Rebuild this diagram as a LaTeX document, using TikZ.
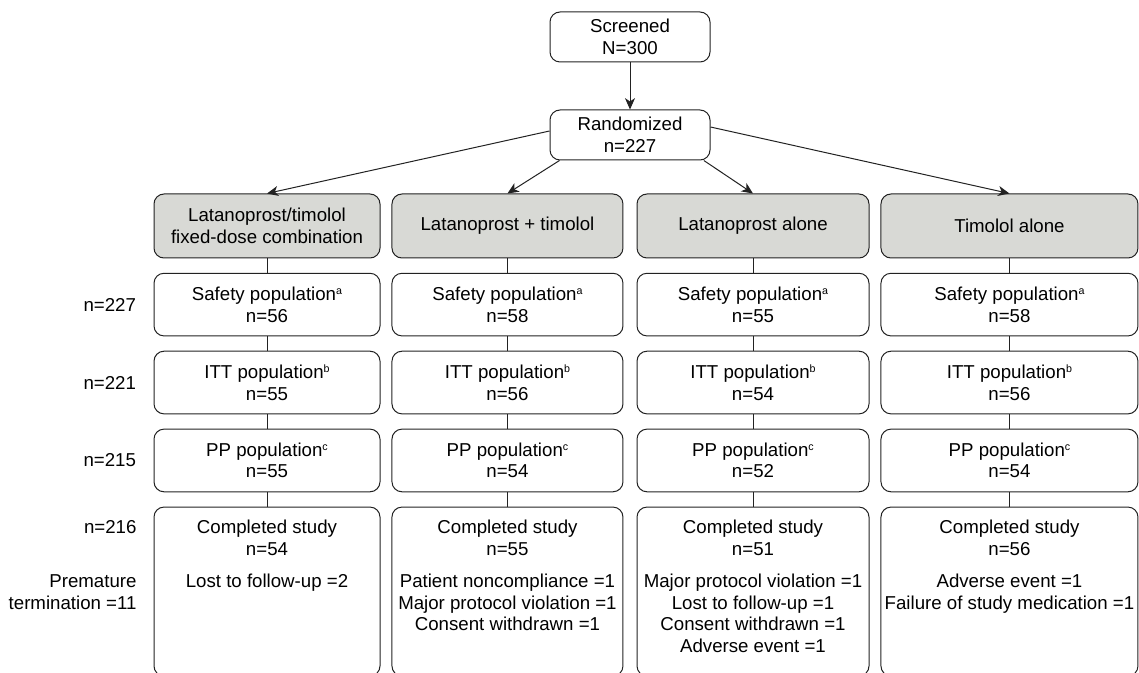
\documentclass[tikz,border=0pt]{standalone}
\usepackage{fontspec}
\setmainfont{Liberation Sans}
\usetikzlibrary{positioning,arrows.meta}
\definecolor{headgray}{RGB}{216,217,213}
\definecolor{linegray}{RGB}{34,34,34}
\newcommand\supmark[1]{\raisebox{0.6ex}{\fontsize{8}{8}\selectfont #1}}

\begin{document}
\begin{tikzpicture}[>={Stealth[length=8.5pt,width=7.5pt,inset=2.5pt]},node distance=10.7pt,
  font=\fontsize{14}{16.2}\selectfont,line width=0.75pt,
  box/.style={draw=linegray,rounded corners=7.5pt,align=center,minimum height=47pt,inner sep=2pt},
  head/.style={box,fill=headgray,minimum height=48pt},
  col1/.style={minimum width=169.5pt},
  col2/.style={minimum width=173.25pt},
  col3/.style={minimum width=174pt},
  col4/.style={minimum width=192.75pt},
  done/.style={box,minimum height=126.7pt},
  txt/.style={align=center,inner sep=0pt},
  lbl/.style={align=right,inner sep=0pt}]
\useasboundingbox (0,0) rectangle (854.25pt,-504.75pt);

% top of the chart
\node[box,minimum width=120pt,minimum height=37.5pt] (scr) at (472.5pt,-27.75pt) {Screened\\N=300};
\node[box,minimum width=120pt,minimum height=37.5pt] (rnd) at (472.5pt,-101.25pt) {Randomized\\n=227};

% treatment groups
\node[head,col1] (g1) at (200.25pt,-169.5pt) {Latanoprost/timolol\\fixed-dose combination};
\node[head,col2] (g2) at (380.6pt,-169.5pt) {Latanoprost + timolol};
\node[head,col3] (g3) at (564.75pt,-169.5pt) {Latanoprost alone};
\node[head,col4] (g4) at (757.1pt,-169.5pt) {Timolol alone};

% safety population
\node[box,col1] (safe1) [below=of g1] {Safety population\supmark{a}\\n=56};
\node[box,col2] (safe2) [below=of g2] {Safety population\supmark{a}\\n=58};
\node[box,col3] (safe3) [below=of g3] {Safety population\supmark{a}\\n=55};
\node[box,col4] (safe4) [below=of g4] {Safety population\supmark{a}\\n=58};

% ITT population
\node[box,col1] (itt1) [below=of safe1] {ITT population\supmark{b}\\n=55};
\node[box,col2] (itt2) [below=of safe2] {ITT population\supmark{b}\\n=56};
\node[box,col3] (itt3) [below=of safe3] {ITT population\supmark{b}\\n=54};
\node[box,col4] (itt4) [below=of safe4] {ITT population\supmark{b}\\n=56};

% PP population
\node[box,col1] (pp1) [below=of itt1] {PP population\supmark{c}\\n=55};
\node[box,col2] (pp2) [below=of itt2] {PP population\supmark{c}\\n=54};
\node[box,col3] (pp3) [below=of itt3] {PP population\supmark{c}\\n=52};
\node[box,col4] (pp4) [below=of itt4] {PP population\supmark{c}\\n=54};

% completed study
\node[done,col1] (end1) [below=of pp1] {};
\node[done,col2] (end2) [below=of pp2] {};
\node[done,col3] (end3) [below=of pp3] {};
\node[done,col4] (end4) [below=of pp4] {};
\node[txt] (why1) [below=10pt of end1.north] {Completed study\\n=54\\[8pt]Lost to follow-up =2};
\node[txt] (why2) [below=10pt of end2.north] {Completed study\\n=55\\[8pt]Patient noncompliance =1\\Major protocol violation =1\\Consent withdrawn =1};
\node[txt] (why3) [below=10pt of end3.north] {Completed study\\n=51\\[8pt]Major protocol violation =1\\Lost to follow-up =1\\Consent withdrawn =1\\Adverse event =1};
\node[txt] (why4) [below=10pt of end4.north] {Completed study\\n=56\\[8pt]Adverse event =1\\Failure of study medication =1};

% totals on the left
\node[lbl] (nsafe) [left=12.75pt of safe1] {n=227};
\node[lbl] (nitt) [left=12.75pt of itt1] {n=221};
\node[lbl] (npp) [left=12.75pt of pp1] {n=215};
\node[lbl,anchor=east] (ndone) at (102.75pt,-395pt) {n=216};
\node[lbl,anchor=east] (nterm) at (102.75pt,-444pt) {Premature\\termination =11};

\path[->,linegray]
(scr) edge (rnd)
([yshift=3pt]rnd.west) edge (g1.north)
([xshift=7.5pt]rnd.south west) edge (g2.north)
([xshift=-5pt]rnd.south east) edge (g3.north)
([yshift=6pt]rnd.east) edge (g4.north)
; %end path
\path[linegray]
(g1) edge (safe1) (safe1) edge (itt1) (itt1) edge (pp1) (pp1) edge (end1)
(g2) edge (safe2) (safe2) edge (itt2) (itt2) edge (pp2) (pp2) edge (end2)
(g3) edge (safe3) (safe3) edge (itt3) (itt3) edge (pp3) (pp3) edge (end3)
(g4) edge (safe4) (safe4) edge (itt4) (itt4) edge (pp4) (pp4) edge (end4)
; %end path
\end{tikzpicture}
\end{document}
